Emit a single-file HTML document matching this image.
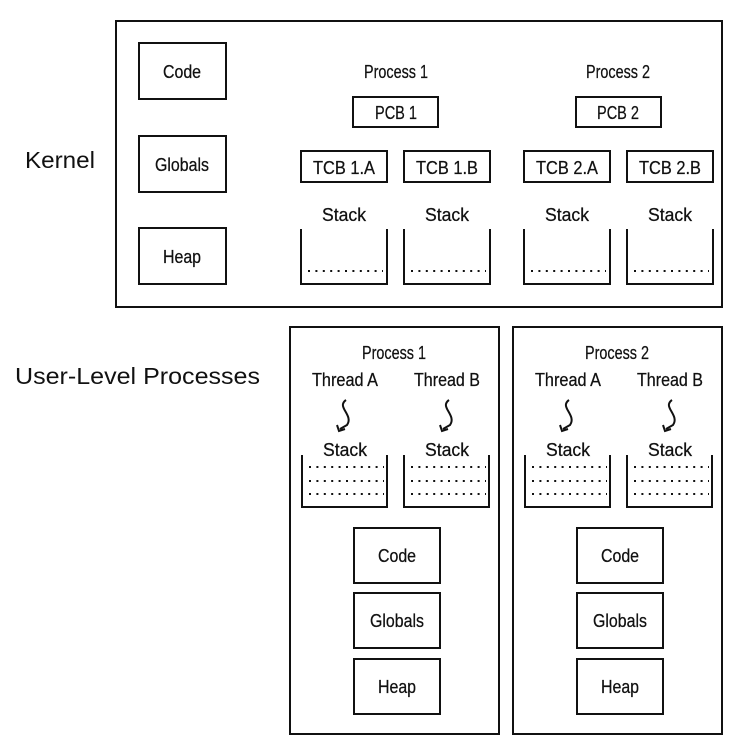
<!DOCTYPE html>
<html><head><meta charset="utf-8"><style>
html,body{margin:0;padding:0;background:#fff;}
svg{display:block;}
text{font-family:"Liberation Sans",sans-serif;fill:#111;}
.c{font-size:18px;text-anchor:middle;stroke:#111;stroke-width:0.25;}
.big{font-size:23px;}
</style></head><body>
<svg width="738" height="744" viewBox="0 0 738 744" xmlns="http://www.w3.org/2000/svg">
<defs>
<g id="kcup"><path d="M0 0 V55 H86 V0" fill="none" stroke="#111" stroke-width="2"/>
<line x1="7" y1="42" x2="82" y2="42" stroke="#111" stroke-width="2" stroke-dasharray="2 5.4"/></g>
<g id="ucup"><path d="M0 0 V52 H85 V0" fill="none" stroke="#111" stroke-width="2"/>
<line x1="7" y1="12" x2="82" y2="12" stroke="#111" stroke-width="2" stroke-dasharray="2 5.4"/>
<line x1="7" y1="26" x2="82" y2="26" stroke="#111" stroke-width="2" stroke-dasharray="2 5.4"/>
<line x1="7" y1="39" x2="82" y2="39" stroke="#111" stroke-width="2" stroke-dasharray="2 5.4"/></g>
<g id="squig"><path d="M4 0 C-6 7,12 15,5 25 L-2 29" fill="none" stroke="#111" stroke-width="2"/>
<path d="M-5 25 L-3 31 L3 29" fill="none" stroke="#111" stroke-width="2"/></g>
<g id="proc">
<rect x="0" y="0" width="209" height="407" fill="none" stroke="#111" stroke-width="2"/>
<text class="c" x="55" y="59" textLength="66" lengthAdjust="spacingAndGlyphs">Thread A</text>
<text class="c" x="157" y="59" textLength="66" lengthAdjust="spacingAndGlyphs">Thread B</text>
<use href="#squig" x="52" y="73"/><use href="#squig" x="155" y="73"/>
<text class="c" x="55" y="129" textLength="44" lengthAdjust="spacingAndGlyphs">Stack</text>
<text class="c" x="157" y="129" textLength="44" lengthAdjust="spacingAndGlyphs">Stack</text>
<use href="#ucup" x="12" y="128"/><use href="#ucup" x="114" y="128"/>
<rect x="64" y="201" width="86" height="55" fill="none" stroke="#111" stroke-width="2"/>
<rect x="64" y="266" width="86" height="55" fill="none" stroke="#111" stroke-width="2"/>
<rect x="64" y="332" width="86" height="55" fill="none" stroke="#111" stroke-width="2"/>
<text class="c" x="107" y="235" textLength="38" lengthAdjust="spacingAndGlyphs">Code</text>
<text class="c" x="107" y="300" textLength="54" lengthAdjust="spacingAndGlyphs">Globals</text>
<text class="c" x="107" y="366" textLength="38" lengthAdjust="spacingAndGlyphs">Heap</text>
</g>
</defs>
<text class="big" x="25" y="168" textLength="70" lengthAdjust="spacingAndGlyphs">Kernel</text>
<text class="big" x="15" y="384" textLength="245" lengthAdjust="spacingAndGlyphs">User-Level Processes</text>
<rect x="116" y="21" width="606" height="286" fill="none" stroke="#111" stroke-width="2"/>
<rect x="139" y="43" width="87" height="56" fill="none" stroke="#111" stroke-width="2"/>
<rect x="139" y="136" width="87" height="56" fill="none" stroke="#111" stroke-width="2"/>
<rect x="139" y="228" width="87" height="56" fill="none" stroke="#111" stroke-width="2"/>
<text class="c" x="182" y="78" textLength="38" lengthAdjust="spacingAndGlyphs">Code</text>
<text class="c" x="182" y="171" textLength="54" lengthAdjust="spacingAndGlyphs">Globals</text>
<text class="c" x="182" y="263" textLength="38" lengthAdjust="spacingAndGlyphs">Heap</text>
<text class="c" x="396" y="78" textLength="64" lengthAdjust="spacingAndGlyphs">Process 1</text>
<text class="c" x="618" y="78" textLength="64" lengthAdjust="spacingAndGlyphs">Process 2</text>
<rect x="353" y="97" width="85" height="30" fill="none" stroke="#111" stroke-width="2"/>
<rect x="576" y="97" width="85" height="30" fill="none" stroke="#111" stroke-width="2"/>
<text class="c" x="396" y="119" textLength="42" lengthAdjust="spacingAndGlyphs">PCB 1</text>
<text class="c" x="618" y="119" textLength="42" lengthAdjust="spacingAndGlyphs">PCB 2</text>
<rect x="301" y="151" width="86" height="31" fill="none" stroke="#111" stroke-width="2"/>
<rect x="404" y="151" width="86" height="31" fill="none" stroke="#111" stroke-width="2"/>
<rect x="524" y="151" width="86" height="31" fill="none" stroke="#111" stroke-width="2"/>
<rect x="627" y="151" width="86" height="31" fill="none" stroke="#111" stroke-width="2"/>
<text class="c" x="344" y="174" textLength="62" lengthAdjust="spacingAndGlyphs">TCB 1.A</text>
<text class="c" x="447" y="174" textLength="62" lengthAdjust="spacingAndGlyphs">TCB 1.B</text>
<text class="c" x="567" y="174" textLength="62" lengthAdjust="spacingAndGlyphs">TCB 2.A</text>
<text class="c" x="670" y="174" textLength="62" lengthAdjust="spacingAndGlyphs">TCB 2.B</text>
<text class="c" x="344" y="221" textLength="44" lengthAdjust="spacingAndGlyphs">Stack</text>
<text class="c" x="447" y="221" textLength="44" lengthAdjust="spacingAndGlyphs">Stack</text>
<text class="c" x="567" y="221" textLength="44" lengthAdjust="spacingAndGlyphs">Stack</text>
<text class="c" x="670" y="221" textLength="44" lengthAdjust="spacingAndGlyphs">Stack</text>
<use href="#kcup" x="301" y="229"/><use href="#kcup" x="404" y="229"/>
<use href="#kcup" x="524" y="229"/><use href="#kcup" x="627" y="229"/>
<g transform="translate(290,327)">
<use href="#proc"/>
<text class="c" x="104" y="32" textLength="64" lengthAdjust="spacingAndGlyphs">Process 1</text>
</g>
<g transform="translate(513,327)">
<use href="#proc"/>
<text class="c" x="104" y="32" textLength="64" lengthAdjust="spacingAndGlyphs">Process 2</text>
</g>
</svg>
</body></html>
